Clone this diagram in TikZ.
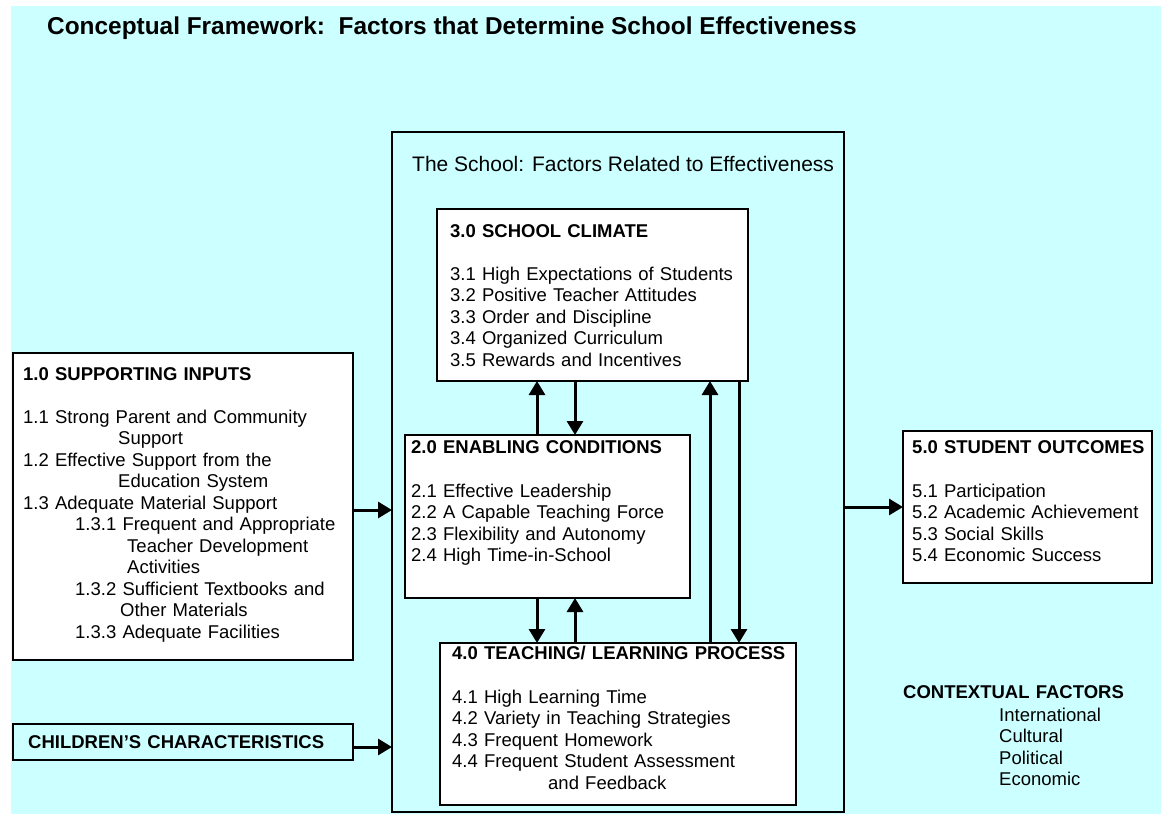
\documentclass[tikz,border=0pt]{standalone}
\usepackage{fontspec}
\setmainfont{Liberation Sans}
\usetikzlibrary{arrows.meta,positioning}
\definecolor{bg-cyan}{RGB}{204,255,255}

\begin{document}
\begin{tikzpicture}[
    x=1pt, y=-1pt,
    box/.style={rectangle, draw, line width=2.5pt, fill=white, outer sep=0pt, inner sep=0pt, anchor=north west},
    school/.style={rectangle, draw, line width=2pt, outer sep=0pt, inner sep=0pt, anchor=north west},
    txt/.style={anchor=base west, inner sep=0pt, text width=380pt, align=left, font=\fontsize{18.5}{21.5}\selectfont},
    arrow/.style={-{Triangle[length=14pt, width=16pt]}, line width=3pt}
]
\useasboundingbox (0,0) rectangle (1161,814);
\fill[bg-cyan] (11,6) rectangle (1161,814);

% Title
\node[anchor=base west, inner sep=0pt, font=\fontsize{24.4}{28}\selectfont\bfseries] (title) at (47,34)
    {Conceptual Framework:\ \ Factors that Determine School Effectiveness};

% The school
\node[school, minimum width=452pt, minimum height=680pt] (school) at (392,132) {};
\node[anchor=base west, inner sep=0pt, font=\fontsize{21}{25}\selectfont] (schoollabel)
    at ([xshift=20pt, yshift=-39pt]school.north west) {The School: Factors Related to Effectiveness};

% 3.0
\node[box, minimum width=311pt, minimum height=172pt] (climate) at (437,209) {};
\node[txt] (climatetxt) at ([xshift=13pt, yshift=-28pt]climate.north west) {%
    \textbf{3.0 SCHOOL CLIMATE}\\[21.5pt]
    3.1 High Expectations of Students\\
    3.2 Positive Teacher Attitudes\\
    3.3 Order and Discipline\\
    3.4 Organized Curriculum\\
    3.5 Rewards and Incentives};

% 2.0
\node[box, minimum width=285pt, minimum height=163pt] (enabling) at (405,435) {};
\node[txt] (enablingtxt) at ([xshift=6pt, yshift=-18pt]enabling.north west) {%
    \textbf{2.0 ENABLING CONDITIONS}\\[22.5pt]
    2.1 Effective Leadership\\
    2.2 A Capable Teaching Force\\
    2.3 Flexibility and Autonomy\\
    2.4 High Time-in-School};

% 4.0
\node[box, minimum width=356pt, minimum height=162pt] (teaching) at (440,643) {};
\node[txt] (teachingtxt) at ([xshift=12pt, yshift=-16pt]teaching.north west) {%
    \textbf{4.0 TEACHING/ LEARNING PROCESS}\\[22.5pt]
    4.1 High Learning Time\\
    4.2 Variety in Teaching Strategies\\
    4.3 Frequent Homework\\
    4.4 Frequent Student Assessment\\
    \hspace*{96pt}and Feedback};

% 1.0
\node[box, minimum width=340pt, minimum height=307pt] (inputs) at (13,353) {};
\node[txt] (inputstxt) at ([xshift=10pt, yshift=-27pt]inputs.north west) {%
    \textbf{1.0 SUPPORTING INPUTS}\\[21.5pt]
    1.1 Strong Parent and Community\\
    \hspace*{95pt}Support\\
    1.2 Effective Support from the\\
    \hspace*{95pt}Education System\\
    1.3 Adequate Material Support\\
    \hspace*{52pt}1.3.1 Frequent and Appropriate\\
    \hspace*{104pt}Teacher Development\\
    \hspace*{104pt}Activities\\
    \hspace*{52pt}1.3.2 Sufficient Textbooks and\\
    \hspace*{97pt}Other Materials\\
    \hspace*{52pt}1.3.3 Adequate Facilities};

% Children
\node[box, fill=none, minimum width=340pt, minimum height=36pt] (children) at (13,724) {};
\node[txt, font=\fontsize{18.5}{21.5}\selectfont\bfseries] (childrentxt)
    at ([xshift=15pt, yshift=-24pt]children.north west) {CHILDREN’S CHARACTERISTICS};

% 5.0
\node[box, minimum width=249pt, minimum height=152pt] (outcomes) at (903,431) {};
\node[txt] (outcomestxt) at ([xshift=9pt, yshift=-22pt]outcomes.north west) {%
    \textbf{5.0 STUDENT OUTCOMES}\\[22.5pt]
    5.1 Participation\\
    5.2 Academic Achievement\\
    5.3 Social Skills\\
    5.4 Economic Success};

% Context
\node[txt] (context) at (903,698) {%
    \textbf{CONTEXTUAL FACTORS}\\[1.5pt]
    \hspace*{96pt}International\\
    \hspace*{96pt}Cultural\\
    \hspace*{96pt}Political\\
    \hspace*{96pt}Economic};

% Arrows
\draw[arrow] ([yshift=-3.5pt]inputs.east) -- ([yshift=-3.5pt]inputs.east -| school.west);
\draw[arrow] ([yshift=-5pt]children.east) -- ([yshift=-5pt]children.east -| school.west);
\draw[arrow] (outcomes.west -| school.east) -- (outcomes.west);
\draw[arrow] ([xshift=-10.5pt]enabling.north) -- ([xshift=-10.5pt]enabling.north |- climate.south);
\draw[arrow] ([xshift=27.5pt]enabling.north |- climate.south) -- ([xshift=27.5pt]enabling.north);
\draw[arrow] ([xshift=-10.5pt]enabling.south) -- ([xshift=-10.5pt]enabling.south |- teaching.north);
\draw[arrow] ([xshift=27.5pt]enabling.south |- teaching.north) -- ([xshift=27.5pt]enabling.south);
\draw[arrow] ([xshift=92pt]teaching.north) -- ([xshift=92pt]teaching.north |- climate.south);
\draw[arrow] ([xshift=121pt]teaching.north |- climate.south) -- ([xshift=121pt]teaching.north);

\end{tikzpicture}
\end{document}
